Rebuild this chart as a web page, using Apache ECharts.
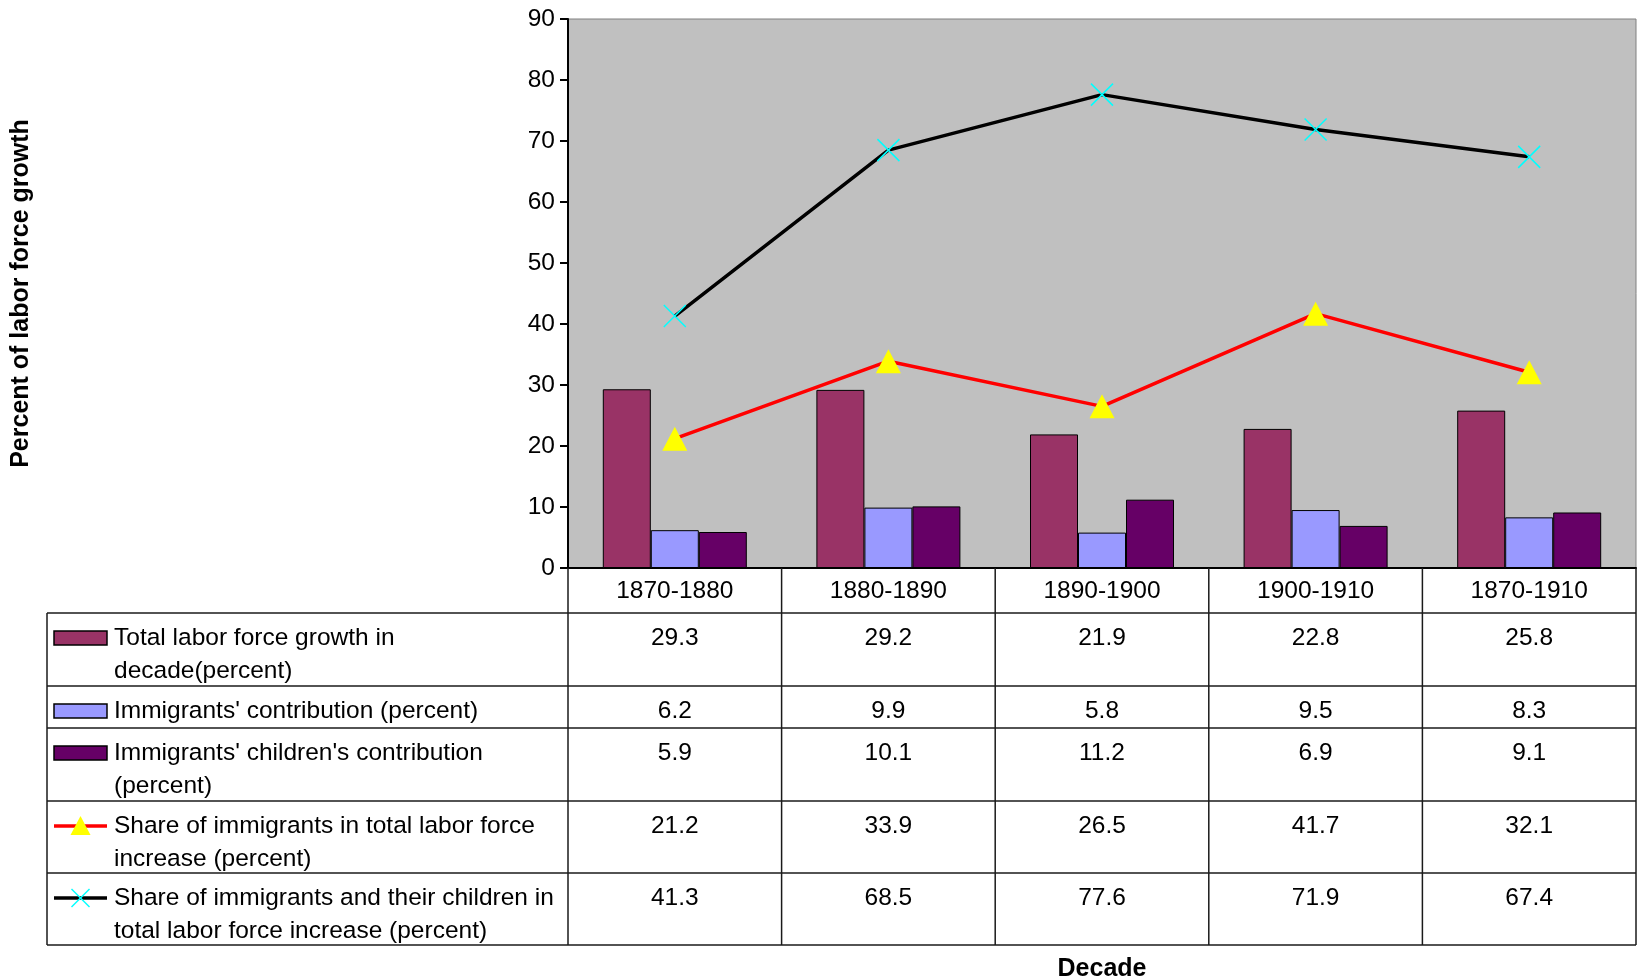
<!DOCTYPE html>
<html>
<head>
<meta charset="utf-8">
<script src="https://cdn.jsdelivr.net/npm/echarts@6/dist/echarts.min.js"></script>
<style>
  html, body { margin: 0; padding: 0; background: #ffffff; }
  #chart { width: 1640px; height: 980px; }
</style>
</head>
<body>
<div id="chart"></div>
<script>
// Labor force growth by decade, with immigrant contributions (percent)
const decades = ['1870-1880', '1880-1890', '1890-1900', '1900-1910', '1870-1910'];
const totalGrowth = [29.3, 29.2, 21.9, 22.8, 25.8];
const immigrantContrib = [6.2, 9.9, 5.8, 9.5, 8.3];
const childrenContrib = [5.9, 10.1, 11.2, 6.9, 9.1];
const immigrantShare = [21.2, 33.9, 26.5, 41.7, 32.1];
const immigrantChildShare = [41.3, 68.5, 77.6, 71.9, 67.4];
const seriesLabels = [
  'Total labor force growth in\ndecade(percent)',
  "Immigrants' contribution (percent)",
  "Immigrants' children's contribution\n(percent)",
  'Share of immigrants in total labor force\nincrease (percent)',
  'Share of immigrants and their children in\ntotal labor force increase (percent)'
];
const yMin = 0, yMax = 90, yStep = 10;

const FONT = '"Liberation Sans", Arial, Helvetica, sans-serif';
const FS = 24.5;
const TITLE_FS = 25;
const COLORS = {
  total: '#993366', immig: '#9999ff', child: '#660066',
  red: '#ff0000', yellow: '#ffff00', black: '#000000', cyan: '#00ffff'
};
const CROSS = 'path://M0 0L10 10M10 0L0 10';

const chart = echarts.init(document.getElementById('chart'), null, { renderer: 'canvas' });

const barCommon = {
  type: 'bar', barWidth: 48, barGap: '0%',
  itemStyle: { borderColor: '#000', borderWidth: 1 },
  emphasis: { disabled: true }, z: 2
};

chart.setOption({
  animation: false,
  backgroundColor: '#ffffff',
  textStyle: { fontFamily: FONT },
  grid: {
    left: 568, top: 19, right: 4, bottom: 412,
    show: true, backgroundColor: '#c0c0c0', borderColor: '#808080', borderWidth: 1
  },
  xAxis: {
    type: 'category', data: decades, boundaryGap: true,
    axisLine: { lineStyle: { color: '#000', width: 2 } },
    axisTick: { show: false },
    axisLabel: { color: '#000', fontSize: FS, fontFamily: FONT, margin: 11 },
    splitLine: { show: false }
  },
  yAxis: {
    type: 'value', min: yMin, max: yMax, interval: yStep,
    axisLine: { show: true, lineStyle: { color: '#000', width: 2 } },
    axisTick: { show: true, inside: false, length: 8, lineStyle: { color: '#000', width: 2 } },
    axisLabel: { color: '#000', fontSize: FS, fontFamily: FONT, margin: 13 },
    splitLine: { show: false }
  },
  series: [
    Object.assign({ name: seriesLabels[0], data: totalGrowth, color: COLORS.total }, barCommon),
    Object.assign({ name: seriesLabels[1], data: immigrantContrib, color: COLORS.immig }, barCommon),
    Object.assign({ name: seriesLabels[2], data: childrenContrib, color: COLORS.child }, barCommon),
    {
      name: seriesLabels[3], type: 'line', data: immigrantShare, z: 3,
      lineStyle: { color: COLORS.red, width: 3.5 },
      symbol: 'triangle', symbolSize: [25, 24], showAllSymbol: true,
      itemStyle: { color: COLORS.yellow, borderWidth: 0 },
      emphasis: { disabled: true }
    },
    {
      name: seriesLabels[4], type: 'line', data: immigrantChildShare, z: 4,
      lineStyle: { color: COLORS.black, width: 3.5 },
      symbol: CROSS, symbolSize: 22, showAllSymbol: true,
      itemStyle: { color: 'none', borderColor: COLORS.cyan, borderWidth: 1.5 },
      emphasis: { disabled: true }
    }
  ]
});

// Data table beneath the plot, laid out from the category axis positions
function buildTable() {
  const xs = decades.map((d, i) => chart.convertToPixel({ xAxisIndex: 0 }, i));
  const band = xs[1] - xs[0];
  const plotLeft = xs[0] - band / 2;
  const plotRight = xs[xs.length - 1] + band / 2;
  const axisY = chart.convertToPixel({ yAxisIndex: 0 }, yMin);
  const plotTop = chart.convertToPixel({ yAxisIndex: 0 }, yMax);

  const tableLeft = 47;
  const headerH = 45;
  const rowHeights = [73, 42, 73, 72, 72];
  const rowValues = [totalGrowth, immigrantContrib, childrenContrib, immigrantShare, immigrantChildShare];
  const lineColor = '#1a1a1a';
  const lw = 1.5;
  const LH = 33;

  const g = [];
  const hline = (x1, x2, y) => g.push({ type: 'line', shape: { x1, y1: y, x2, y2: y }, style: { stroke: lineColor, lineWidth: lw }, z: 10 });
  const vline = (x, y1, y2) => g.push({ type: 'line', shape: { x1: x, y1, x2: x, y2 }, style: { stroke: lineColor, lineWidth: lw }, z: 10 });

  const rowTops = [];
  let y = axisY + headerH;
  rowHeights.forEach(h => { rowTops.push(y); y += h; });
  const tableBottom = y;

  // horizontal rules
  hline(tableLeft, plotRight, axisY + headerH);
  rowTops.forEach((t, i) => hline(tableLeft, plotRight, t + rowHeights[i]));
  // vertical rules
  vline(tableLeft, axisY + headerH, tableBottom);
  for (let i = 0; i <= xs.length; i++) {
    vline(plotLeft + i * band, axisY, tableBottom);
  }

  const symX1 = 54, symX2 = 107, symMid = (symX1 + symX2) / 2;
  rowTops.forEach((t, r) => {
    const cy = t + 25;
    // legend key
    if (r < 3) {
      const fill = [COLORS.total, COLORS.immig, COLORS.child][r];
      g.push({ type: 'rect', shape: { x: symX1, y: cy - 7, width: symX2 - symX1, height: 14 },
        style: { fill, stroke: '#000', lineWidth: 1.5 }, z: 11 });
    } else if (r === 3) {
      g.push({ type: 'line', shape: { x1: symX1, y1: cy, x2: symX2, y2: cy }, style: { stroke: COLORS.red, lineWidth: 3.5 }, z: 11 });
      g.push({ type: 'polygon', shape: { points: [[symMid, cy - 10], [symMid + 10, cy + 9], [symMid - 10, cy + 9]] },
        style: { fill: COLORS.yellow }, z: 12 });
    } else {
      g.push({ type: 'line', shape: { x1: symX1, y1: cy, x2: symX2, y2: cy }, style: { stroke: COLORS.black, lineWidth: 3.5 }, z: 11 });
      g.push({ type: 'line', shape: { x1: symMid - 9, y1: cy - 9, x2: symMid + 9, y2: cy + 9 }, style: { stroke: COLORS.cyan, lineWidth: 1.5 }, z: 12 });
      g.push({ type: 'line', shape: { x1: symMid + 9, y1: cy - 9, x2: symMid - 9, y2: cy + 9 }, style: { stroke: COLORS.cyan, lineWidth: 1.5 }, z: 12 });
    }
    // legend text
    g.push({ type: 'text', x: 114, y: cy - LH / 2, z: 11,
      style: { text: seriesLabels[r], font: FS + 'px ' + FONT, fill: '#000', lineHeight: LH, textAlign: 'left', textVerticalAlign: 'top' } });
    // values
    rowValues[r].forEach((v, i) => {
      g.push({ type: 'text', x: xs[i], y: cy - LH / 2, z: 11,
        style: { text: v.toFixed(1), font: FS + 'px ' + FONT, fill: '#000', lineHeight: LH, textAlign: 'center', textVerticalAlign: 'top' } });
    });
  });

  // axis titles
  g.push({ type: 'text', x: 21, y: (plotTop + axisY) / 2, rotation: Math.PI / 2, z: 11,
    style: { text: 'Percent of labor force growth', font: 'bold ' + TITLE_FS + 'px ' + FONT, fill: '#000', textAlign: 'center', textVerticalAlign: 'middle' } });
  g.push({ type: 'text', x: (plotLeft + plotRight) / 2, y: tableBottom + 24, z: 11,
    style: { text: 'Decade', font: 'bold ' + TITLE_FS + 'px ' + FONT, fill: '#000', textAlign: 'center', textVerticalAlign: 'middle' } });

  chart.setOption({ graphic: g });
}
buildTable();
</script>
</body>
</html>
